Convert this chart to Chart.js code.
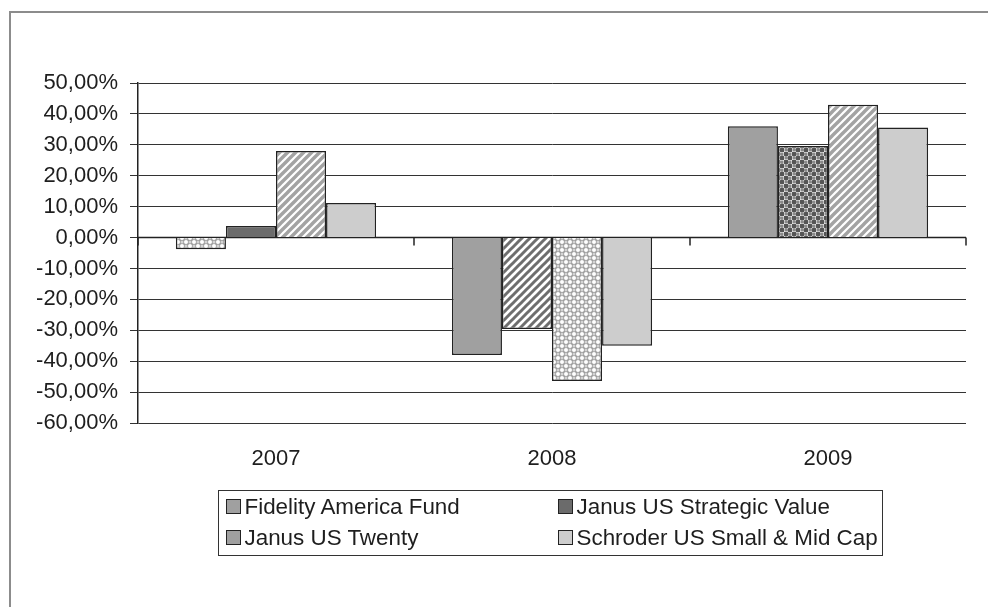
<!DOCTYPE html>
<html>
<head>
<meta charset="utf-8">
<script src="https://cdn.jsdelivr.net/npm/chart.js@4.4.1/dist/chart.umd.min.js"></script>
<style>
  html, body { margin: 0; padding: 0; background: #fff; }
  #wrap { position: relative; width: 988px; height: 607px; overflow: hidden; background: #fff; }
  #frame { position: absolute; left: 9px; top: 11px; width: 1200px; height: 800px;
           border-top: 2px solid #8c8c8c; border-left: 2px solid #8c8c8c; }
  #c { position: absolute; left: 0; top: 0; }
  #legend { position: absolute; left: 218px; top: 490px; width: 665px; height: 66px; box-sizing: border-box;
            border: 1.5px solid #333; font-family: 'Liberation Sans', Arial, sans-serif; font-size: 22.4px; color: #1e1e1e; }
  .item { position: absolute; display: flex; align-items: center; height: 26px; white-space: nowrap; }
  .sw { width: 15px; height: 15px; box-sizing: border-box; border: 1.5px solid #222; margin-right: 4px; }
</style>
</head>
<body>
<div id="wrap">
  <div id="frame"></div>
  <canvas id="c" width="988" height="607"></canvas>
  <div id="legend"></div>
</div>
<script>
// ---- data (percent) ----
const categories = ['2007', '2008', '2009'];
const seriesNames = ['Fidelity America Fund', 'Janus US Strategic Value', 'Janus US Twenty', 'Schroder US Small & Mid Cap'];
const fidelity = [-3.8, -38.0, 36.0];
const strategicValue = [3.7, -29.6, 29.6];
const twenty = [28.0, -46.4, 43.0];
const schroder = [11.2, -35.0, 35.6];
const yTicks = [50, 40, 30, 20, 10, 0, -10, -20, -30, -40, -50, -60];

// ---- patterns ----
function tile(draw) {
  const c = document.createElement('canvas'); c.width = 8; c.height = 8;
  const g = c.getContext('2d'); draw(g);
  return g.createPattern(c, 'repeat');
}
function hatch(stripe, width) {
  return tile(g => {
    g.fillStyle = '#fff'; g.fillRect(0, 0, 8, 8);
    g.strokeStyle = stripe; g.lineWidth = width;
    for (const k of [0, 8, 16]) { g.beginPath(); g.moveTo(-2, k + 2); g.lineTo(k + 2, -2); g.stroke(); }
  });
}
const lightHatch = hatch('#a3a3a3', 3.4);
const darkHatch = hatch('#6e6e6e', 3.0);
const lightDots = tile(g => {
  g.fillStyle = '#9c9c9c'; g.fillRect(0, 0, 8, 8);
  g.fillStyle = '#fff';
  for (const [x, y] of [[2, 2], [6, 6]]) { g.beginPath(); g.arc(x, y, 2.0, 0, Math.PI * 2); g.fill(); }
  g.fillStyle = '#d4d4d4';
  for (const [x, y] of [[6, 2], [2, 6]]) { g.beginPath(); g.arc(x, y, 1.5, 0, Math.PI * 2); g.fill(); }
});
const darkDots = tile(g => {
  g.fillStyle = '#fff'; g.fillRect(0, 0, 8, 8);
  g.fillStyle = '#8a8a8a'; g.fillRect(4.5, 0.5, 3, 3); g.fillRect(0.5, 4.5, 3, 3);
  g.fillStyle = '#555';
  for (const [x, y] of [[2, 2], [6, 6]]) { g.beginPath(); g.arc(x, y, 2.5, 0, Math.PI * 2); g.fill(); }
});

const fills = [
  [lightDots, '#a0a0a0', '#a0a0a0'],
  ['#6b6b6b', darkHatch, darkDots],
  [lightHatch, lightDots, lightHatch],
  ['#cdcdcd', '#cdcdcd', '#cdcdcd']
];
const legendColors = ['#a0a0a0', '#6b6b6b', '#a0a0a0', '#cdcdcd'];
const values = [fidelity, strategicValue, twenty, schroder];

Chart.defaults.font.family = "'Liberation Sans', Arial, sans-serif";
Chart.defaults.color = '#1e1e1e';

const zeroAxis = {
  id: 'zeroAxis',
  beforeDatasetsDraw(chart) {
    const { ctx, scales: { x, y } } = chart;
    const y0 = y.getPixelForValue(0);
    ctx.save();
    ctx.strokeStyle = '#222'; ctx.lineWidth = 1.5;
    ctx.beginPath(); ctx.moveTo(x.left, y0); ctx.lineTo(x.right, y0); ctx.stroke();
    for (let i = 0; i <= categories.length; i++) {
      const px = Math.round(x.getPixelForValue(i - 0.5));
      ctx.beginPath(); ctx.moveTo(px, y0); ctx.lineTo(px, y0 + 8); ctx.stroke();
    }
    ctx.restore();
  }
};

const chart = new Chart(document.getElementById('c'), {
  type: 'bar',
  data: {
    labels: categories,
    datasets: values.map((v, i) => ({
      label: seriesNames[i],
      data: v,
      backgroundColor: fills[i],
      borderColor: '#222',
      borderWidth: 1.5,
      categoryPercentage: 0.7255,
      barPercentage: 1
    }))
  },
  options: {
    responsive: false,
    animation: false,
    devicePixelRatio: 1,
    layout: { padding: { top: 83, right: 22, bottom: 134, left: 0 } },
    plugins: { legend: { display: false }, tooltip: { enabled: false } },
    scales: {
      x: {
        grid: { display: false, drawTicks: false },
        border: { display: false },
        ticks: { font: { size: 22 }, color: '#1e1e1e', padding: 23 },
        afterFit: s => { s.height = 50; }
      },
      y: {
        min: -60, max: 50,
        afterBuildTicks: s => { s.ticks = yTicks.map(v => ({ value: v })); },
        ticks: {
          font: { size: 22 }, color: '#1e1e1e', padding: 12,
          callback: v => v.toFixed(2).replace('.', ',') + '%'
        },
        grid: { color: '#333', lineWidth: 1, tickLength: 8, drawTicks: true },
        border: { color: '#222', width: 1.5 },
        afterFit: s => { s.width = 138; }
      }
    }
  },
  plugins: [zeroAxis]
});

// HTML legend from chart datasets
const leg = document.getElementById('legend');
const pos = [[6.5, 2.5], [338.5, 2.5], [6.5, 33.5], [338.5, 33.5]];
chart.data.datasets.forEach((ds, i) => {
  const it = document.createElement('div');
  it.className = 'item';
  it.style.left = pos[i][0] + 'px'; it.style.top = pos[i][1] + 'px';
  const sw = document.createElement('span'); sw.className = 'sw'; sw.style.background = legendColors[i];
  const tx = document.createElement('span'); tx.textContent = ds.label;
  it.appendChild(sw); it.appendChild(tx); leg.appendChild(it);
});
</script>
</body>
</html>
